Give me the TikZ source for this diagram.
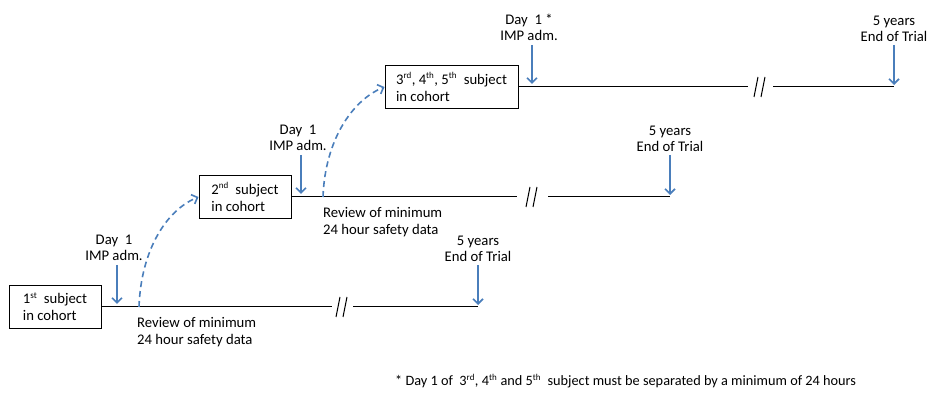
\documentclass[tikz,border=0pt]{standalone}
\usepackage{fontspec}
\setmainfont{Carlito}
\usetikzlibrary{arrows.meta, positioning}

\definecolor{armblue}{RGB}{74,126,187}
\newcommand{\ordsup}[1]{\textsuperscript{\fontsize{9}{9}\selectfont #1}}
\tikzset{
    subjbox/.style={draw, line width=1pt, minimum height=43pt, inner xsep=9pt, inner ysep=0pt, align=left, font=\fontsize{14.7}{17}\selectfont},
    lbl/.style={inner sep=0pt, align=center, font=\fontsize{14.7}{16}\selectfont},
    revtext/.style={inner sep=0pt, align=left, font=\fontsize{14.7}{17}\selectfont},
    timeline/.style={line width=1pt},
    bluearrow/.style={armblue, line width=1.6pt, -{Straight Barb[length=5pt, width=10pt]}},
    bluedash/.style={bluearrow, dash pattern=on 6pt off 4pt},
}

\begin{document}
\begin{tikzpicture}[x=1pt, y=1pt]
        \useasboundingbox (0, 0) rectangle (927, 393);

        % Subjects in cohort
        \node[subjbox, minimum width=92pt] (box1) at (55, 86) {1\ordsup{st}~ subject\\in cohort};
        \node[subjbox, minimum width=92pt] (box2) at (245, 196) {2\ordsup{nd}~ subject\\in cohort};
        \node[subjbox, minimum width=133pt] (box3) at (451.5, 306) {3\ordsup{rd}, 4\ordsup{th}, 5\ordsup{th}~ subject\\in cohort};

        % Time lines, cut at //
        \coordinate (cut1l) at (332, 86);  \coordinate (cut1r) at (353, 86);  \coordinate (end1) at (478, 86);
        \coordinate (cut2l) at (517, 196); \coordinate (cut2r) at (548, 196); \coordinate (end2) at (670, 196);
        \coordinate (cut3l) at (748, 306); \coordinate (cut3r) at (773, 306); \coordinate (end3) at (894, 306);
        \draw[timeline] (box1.east) -- (cut1l) (cut1r) -- (end1);
        \draw[timeline] (box2.east) -- (cut2l) (cut2r) -- (end2);
        \draw[timeline] (box3.east) -- (cut3l) (cut3r) -- (end3);
        \foreach \bx/\by in {342/86, 532/196, 760/306} {
            \draw[timeline] (\bx - 6, \by - 10) -- ++(4, 20) (\bx + 1, \by - 10) -- ++(4, 20);
        }

        % Day 1, IMP adm.
        \coordinate (day1) at (117, 89);
        \coordinate (day2) at (301, 199);
        \coordinate (day3) at (532, 309);
        \node[lbl, anchor=south] (adm1) at (114, 132) {Day~ 1\\IMP adm.};
        \node[lbl, anchor=south] (adm2) at (298, 242) {Day~ 1\\IMP adm.};
        \node[lbl, anchor=south] (adm3) at (529, 352) {Day~ 1 *\\IMP adm.};
        \foreach \i in {1, 2, 3} {
            \draw[bluearrow, shorten <=4pt] (adm\i.south -| day\i) -- (day\i);
        }

        % 5 years, End of Trial
        \node[lbl, anchor=south] (eot1) at (478, 131) {5 years\\End of Trial};
        \node[lbl, anchor=south] (eot2) at (670, 241) {5 years\\End of Trial};
        \node[lbl, anchor=south] (eot3) at (894, 351) {5 years\\End of Trial};
        \foreach \i in {1, 2, 3} {
            \draw[bluearrow, shorten <=3pt] (eot\i.south -| end\i) -- ([yshift=2pt]end\i);
        }

        % Review of safety data, then next subject
        \coordinate (rev1) at (139, 86);
        \coordinate (rev2) at (323, 196);
        \draw[bluedash] (rev1) .. controls +(2, 57) and +(-32, -13) .. (box2.west);
        \draw[bluedash] (rev2) .. controls +(2, 57) and +(-32, -13) .. (box3.west);
        \node[revtext, anchor=north west] (revtxt1) at (137, 76) {Review of minimum\\24 hour safety data};
        \node[revtext, anchor=north west] (revtxt2) at (323, 186) {Review of minimum\\24 hour safety data};

        \node[inner sep=0pt, anchor=west, font=\fontsize{14.3}{16}\selectfont] (note) at (395, 12) {* Day 1 of~ 3\ordsup{rd}, 4\ordsup{th} and 5\ordsup{th}~ subject must be separated by a minimum of 24 hours};

    \end{tikzpicture}
\end{document}
